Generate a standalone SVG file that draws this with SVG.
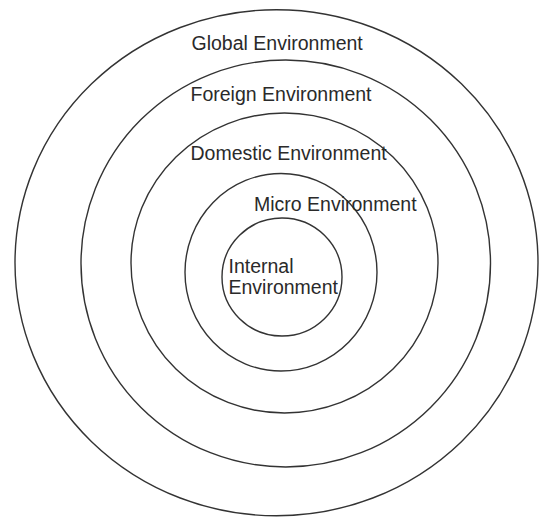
<svg xmlns="http://www.w3.org/2000/svg" width="539" height="518" viewBox="0 0 539 518">
  <style>
    .ring { fill: none; stroke: #333; stroke-width: 1.4; }
    .label { font-family: "Liberation Sans", Arial, Helvetica, sans-serif; font-size: 19.5px; fill: #2a2a2a; }
  </style>
  <rect width="539" height="518" fill="#fff"/>
  <g id="global">
    <ellipse class="ring" cx="276.5" cy="262.75" rx="261.5" ry="253"/>
    <text class="label" x="191.5" y="49.5">Global Environment</text>
  </g>
  <g id="foreign">
    <ellipse class="ring" cx="285.75" cy="263.5" rx="204.75" ry="203.5"/>
    <text class="label" x="190.5" y="100.5">Foreign Environment</text>
  </g>
  <g id="domestic">
    <ellipse class="ring" cx="284.5" cy="263" rx="153.5" ry="150"/>
    <text class="label" x="190.5" y="159.5">Domestic Environment</text>
  </g>
  <g id="micro">
    <ellipse class="ring" cx="281" cy="272.25" rx="96" ry="98.75"/>
    <text class="label" x="254" y="210.5">Micro Environment</text>
  </g>
  <g id="internal">
    <ellipse class="ring" cx="282" cy="277" rx="60" ry="59"/>
    <text class="label" x="228.5" y="273">Internal</text>
    <text class="label" x="228.5" y="293.5">Environment</text>
  </g>
  <g id="connectors"/>
</svg>
